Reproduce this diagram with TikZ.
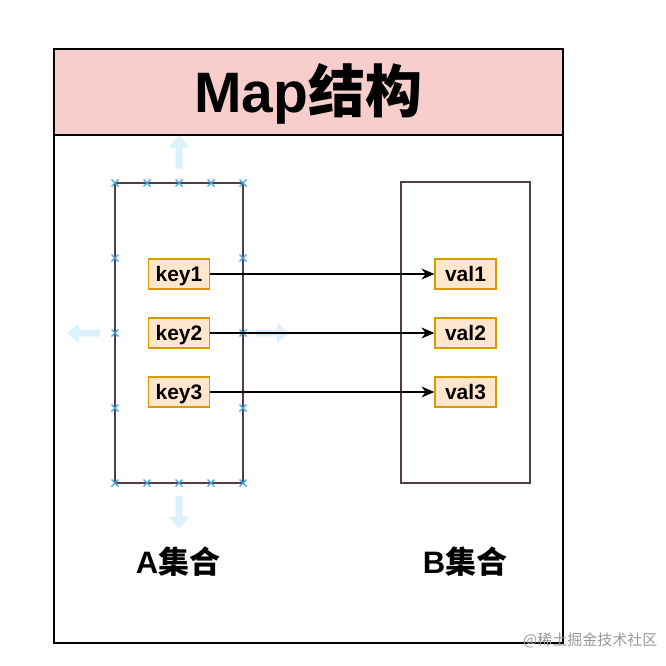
\documentclass[tikz,border=0pt]{standalone}
\usepackage{fontspec}
\setmainfont{Liberation Sans}
\newfontfamily\cjk{Noto Sans CJK SC}
\usetikzlibrary{arrows.meta}

\definecolor{titlepink}{HTML}{F8CECC}
\definecolor{kvfill}{HTML}{FFE6CC}
\definecolor{kvline}{HTML}{D79B00}
\definecolor{setline}{HTML}{56394A}
\definecolor{crossblue}{HTML}{3EA6DE}
\definecolor{handleblue}{HTML}{DCF1FB}

\begin{document}
\begin{tikzpicture}[x = 1pt, y = -1pt]
\tikzstyle{every node} = [inner sep = 0pt]
\tikzstyle{kv} = [draw = kvline, fill = kvfill, line width = 1.2pt, minimum width = 61pt, minimum height = 30pt, text height = 16.5pt, text depth = 2.5pt, font = \fontsize{21}{24}\selectfont\bfseries]
\tikzstyle{setname} = [anchor = base, font = \fontsize{31}{34}\selectfont\bfseries]
\tikzstyle{cross} = [crossblue, line width = 1.2pt]
\tikzstyle{link} = [line width = 1.2pt, -{Stealth[length = 13pt, width = 11pt]}]

\useasboundingbox (0, 0) rectangle (666, 666);

% frame and title
\draw[fill = titlepink, line width = 1.3pt] (54, 49) rectangle (563, 135);
\draw[line width = 1.3pt] (54, 135) rectangle (563, 643);
\node[anchor = base, font = \fontsize{57}{60}\selectfont\bfseries] (0) at (308, 113) {Map{\cjk 结构}};

% the two sets
\draw[setline, line width = 1.2pt] (115, 183) rectangle (243, 483);
\draw[setline, line width = 1.2pt] (401, 182) rectangle (530, 483);

% handles round set A
\foreach \x/\y/\a in {179/152.5/0, 84/333/90, 272/333/-90, 179/512/180}
  \fill[handleblue, shift = {(\x, \y)}, rotate = \a] (0, -17) -- (10, -5) -- (3.5, -5) -- (3.5, 16) -- (-3.5, 16) -- (-3.5, -5) -- (-10, -5) -- cycle;
\foreach \x in {115, 147, 179, 211, 243}
  \foreach \y in {183, 483}
    \draw[cross] (\x, \y) ++(-3.5, -3.5) -- ++(7, 7) ++(0, -7) -- ++(-7, 7);
\foreach \x in {115, 243}
  \foreach \y in {258, 333, 408}
    \draw[cross] (\x, \y) ++(-3.5, -3.5) -- ++(7, 7) ++(0, -7) -- ++(-7, 7);

\node[kv] (1) at (179, 274) {key1};
\node[kv] (2) at (179, 333) {key2};
\node[kv] (3) at (179, 392) {key3};
\node[kv] (4) at (465.5, 274) {val1};
\node[kv] (5) at (465.5, 333) {val2};
\node[kv] (6) at (465.5, 392) {val3};

\draw[link] (1) -- (4);
\draw[link] (2) -- (5);
\draw[link] (3) -- (6);

\node[setname] (7) at (178, 573) {A{\cjk 集合}};
\node[setname] (8) at (465, 573) {B{\cjk 集合}};

\node[anchor = base west, text = black!40, font = \fontsize{15}{16}\selectfont\cjk] (9) at (523, 645) {@稀土掘金技术社区};
\end{tikzpicture}
\end{document}
